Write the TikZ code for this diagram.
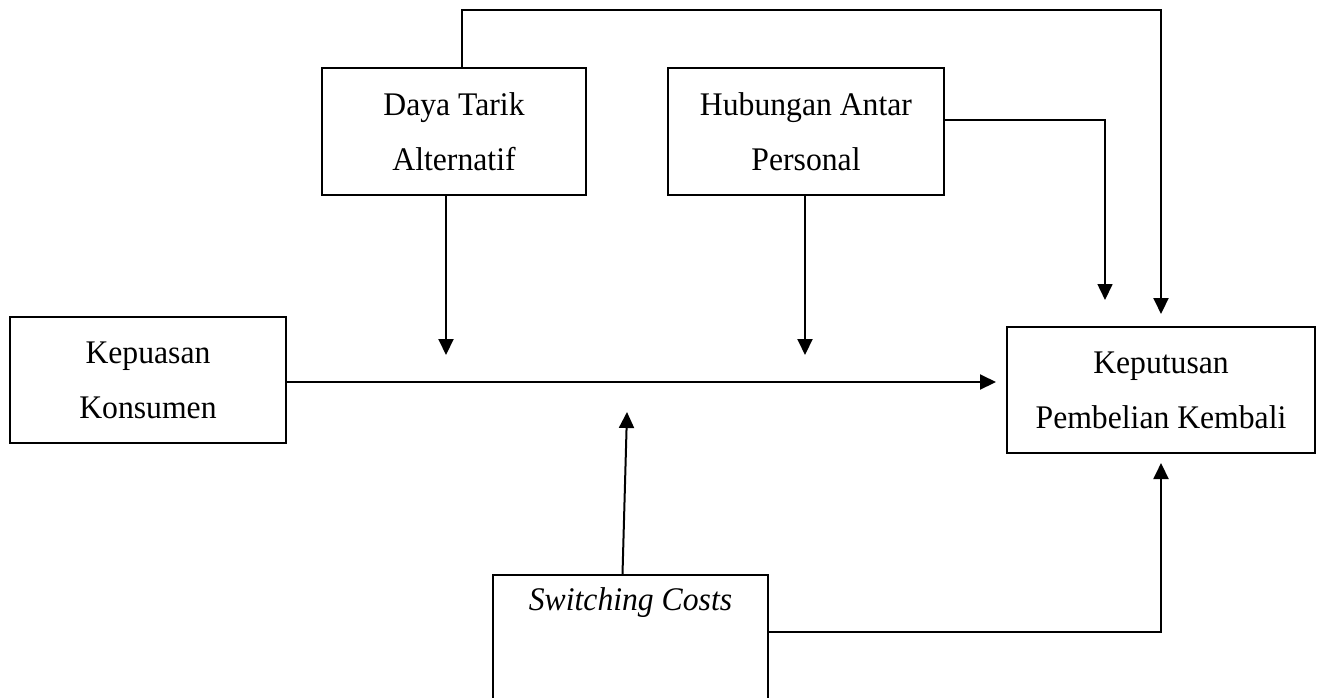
\documentclass[tikz,border=0pt]{standalone}
\usepackage{fontspec}
\setmainfont[FakeStretch=0.96]{Liberation Serif}
\usetikzlibrary{arrows.meta}
\begin{document}
\begin{tikzpicture}[x=0.5pt,y=-0.5pt,
  box/.style={draw,line width=1pt,inner sep=0pt,align=center,
    font=\fontsize{16.5}{27.5}\selectfont},
  conn/.style={line width=1pt},
  arr/.style={conn,-{Triangle[length=8pt,width=7.5pt]}}]
\useasboundingbox (0,0) rectangle (1320,697);
\clip (0,0) rectangle (1320,697);

% boxes
\node[box,minimum width=132pt,minimum height=63.5pt] (dt) at (454,131.5) {Daya Tarik\\Alternatif};
\node[box,minimum width=138pt,minimum height=63.5pt] (hb) at (806,131.5) {Hubungan Antar\\Personal};
\node[box,minimum width=138pt,minimum height=63pt] (kp) at (148,380) {Kepuasan\\Konsumen};
\node[box,minimum width=154pt,minimum height=63pt] (kt) at (1161,390) {Keputusan\\Pembelian Kembali};
\node[box,minimum width=137.5pt,minimum height=102.5pt,
  label={[anchor=center,yshift=-14.5pt,font=\fontsize{16.5}{20}\selectfont\itshape]north:Switching Costs}]
  (sw) at (630.5,677.5) {};

% free arrow ends over the main path
\coordinate (m1) at (446,355);
\coordinate (m2) at (805,355);
\coordinate (m3) at (627,412);
\coordinate (h2) at (1105,300);

% main path
\draw[arr,shorten >=5pt] (kp.east |- 0,382) -- (kt.west |- 0,382);

% moderators
\draw[arr] (dt.south -| m1) -- (m1);
\draw[arr] (hb.south -| m2) -- (m2);
\draw[arr] ([xshift=-4pt]sw.north) -- (m3);

% direct effects on the decision
\draw[arr,shorten >=6pt] ([xshift=4pt]dt.north) -- ++(0,-57) -| (kt.north);
\draw[arr,line width=0.8pt] ([yshift=5.75pt]hb.east) -| (h2);
\draw[arr,shorten >=4.5pt] ([yshift=22.75pt]sw.east) -| (kt.south);
\end{tikzpicture}
\end{document}
